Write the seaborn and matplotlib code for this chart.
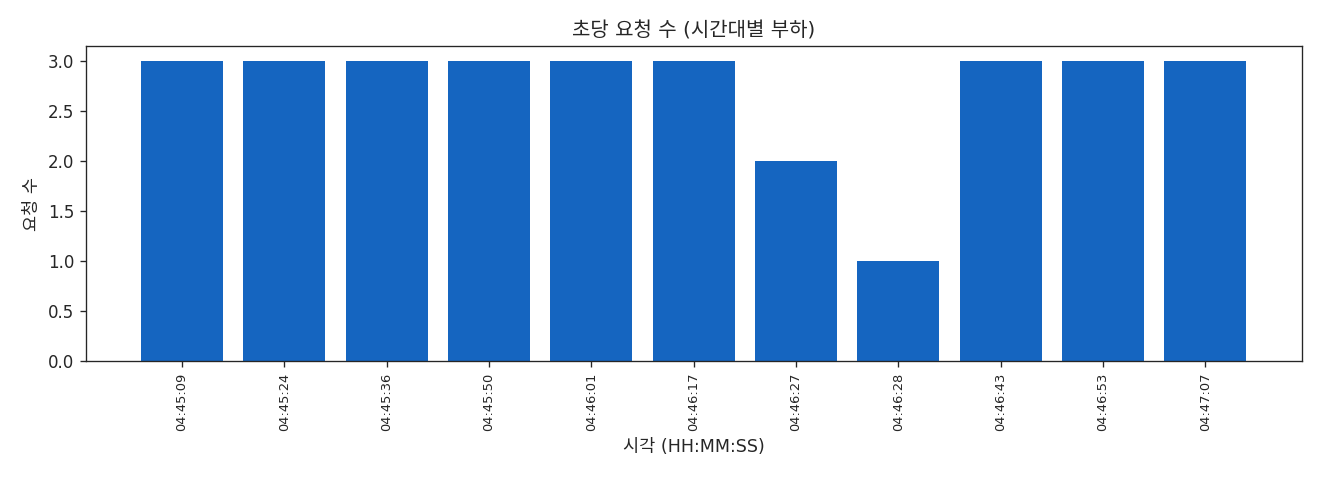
import matplotlib
matplotlib.use("Agg")
import matplotlib.pyplot as plt
import seaborn as sns
import pandas as pd

# per-second request counts
times = ['04:45:09', '04:45:24', '04:45:36', '04:45:50', '04:46:01', '04:46:17',
         '04:46:27', '04:46:28', '04:46:43', '04:46:53', '04:47:07']
counts = [3, 3, 3, 3, 3, 3, 2, 1, 3, 3, 3]

sns.set_style("ticks")
plt.rcParams['font.family'] = ['DejaVu Sans', 'Noto Sans CJK KR']

df = pd.DataFrame({'time': times, 'count': counts})

fig, ax = plt.subplots(figsize=(11, 4), dpi=120)
sns.barplot(data=df, x='time', y='count', color='#1565C0', saturation=1,
            width=0.8, linewidth=0, ax=ax)

# restore matplotlib-style x margins
ax.set_autoscalex_on(True)
ax.margins(x=0.05)
ax.autoscale_view()

ax.set_title('초당 요청 수 (시간대별 부하)', fontsize=12)
ax.set_xlabel('시각 (HH:MM:SS)', fontsize=10.5)
ax.set_ylabel('요청 수', fontsize=10.5)
ax.tick_params(axis='x', labelrotation=90, labelsize=7.8)
for side in ['top', 'right']:
    ax.spines[side].set_visible(True)

fig.subplots_adjust(left=0.065, right=0.986, top=0.904, bottom=0.248)
fig.savefig('out.png', dpi=120)
